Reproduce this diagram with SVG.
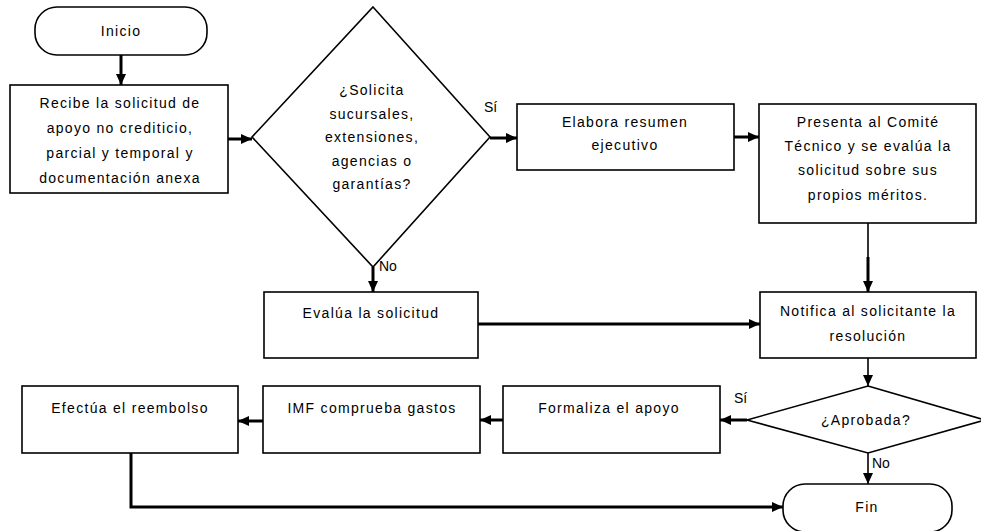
<svg xmlns="http://www.w3.org/2000/svg" width="981" height="531" viewBox="0 0 981 531">
<style>
.box{fill:#fff;stroke:#000;stroke-width:1.6}
.t{font-family:"Liberation Sans",Arial,sans-serif;font-size:14px;fill:#000;text-anchor:middle;letter-spacing:1.3px}
.lbl{font-family:"Liberation Sans",Arial,sans-serif;font-size:14px;fill:#000}
.c{fill:none;stroke:#000;stroke-width:3}
.cthin{fill:none;stroke:#000;stroke-width:1.6}
</style>
<defs>
<marker id="ah" markerUnits="userSpaceOnUse" markerWidth="12" markerHeight="12" viewBox="0 0 12 12" refX="11" refY="6" orient="auto">
<path d="M0,1 L11,6 L0,11 Z" fill="#000"/>
</marker>
</defs>
<rect width="981" height="531" fill="#fff"/>
<g id="connectors">
<path class="c" d="M121,55 V85" marker-end="url(#ah)"/>
<path class="c" d="M228,139 H252" marker-end="url(#ah)"/>
<path class="c" d="M490,138 H517" marker-end="url(#ah)"/>
<path class="c" d="M734,137 H759" marker-end="url(#ah)"/>
<path class="cthin" d="M868,223 V258"/>
<path class="c" d="M868,257 V292" marker-end="url(#ah)"/>
<path class="c" d="M373,267 V292" marker-end="url(#ah)"/>
<path class="c" d="M478,324 H760" marker-end="url(#ah)"/>
<path class="cthin" d="M868,358 V386" marker-end="url(#ah)"/>
<path class="c" d="M747,420 H720" marker-end="url(#ah)"/>
<path class="c" d="M503,420 H480" marker-end="url(#ah)"/>
<path class="c" d="M263,421 H238" marker-end="url(#ah)"/>
<path class="c" d="M131,453 V507 H783" marker-end="url(#ah)"/>
<path class="cthin" d="M868,453 V484" marker-end="url(#ah)"/>
<text class="lbl" x="484" y="112">Sí</text>
<text class="lbl" x="379" y="271">No</text>
<text class="lbl" x="734" y="403">Sí</text>
<text class="lbl" x="872" y="468">No</text>
</g>
<g id="inicio">
<rect class="box" x="35" y="7" width="172" height="48" rx="22" ry="22"/>
<text class="t" x="121" y="36">Inicio</text>
</g>
<g id="recibe">
<rect class="box" x="10" y="85" width="218" height="108"/>
<text class="t" x="120" y="108">Recibe la solicitud de</text>
<text class="t" x="120" y="133">apoyo no crediticio,</text>
<text class="t" x="120" y="158">parcial y temporal y</text>
<text class="t" x="120" y="183">documentación anexa</text>
</g>
<g id="solicita">
<polygon class="box" points="373,7 490,137 373,267 252,137"/>
<text class="t" x="372" y="95">¿Solicita</text>
<text class="t" x="372" y="119">sucursales,</text>
<text class="t" x="372" y="142">extensiones,</text>
<text class="t" x="372" y="166">agencias o</text>
<text class="t" x="372" y="189">garantías?</text>
</g>
<g id="elabora">
<rect class="box" x="517" y="104" width="217" height="66"/>
<text class="t" x="625" y="127">Elabora resumen</text>
<text class="t" x="625" y="150">ejecutivo</text>
</g>
<g id="presenta">
<rect class="box" x="759" y="104" width="217" height="119"/>
<text class="t" x="868" y="127">Presenta al Comité</text>
<text class="t" x="868" y="151">Técnico y se evalúa la</text>
<text class="t" x="868" y="175">solicitud sobre sus</text>
<text class="t" x="868" y="200">propios méritos.</text>
</g>
<g id="evalua">
<rect class="box" x="264" y="292" width="214" height="66"/>
<text class="t" x="371" y="318">Evalúa la solicitud</text>
</g>
<g id="notifica">
<rect class="box" x="760" y="292" width="216" height="66"/>
<text class="t" x="868" y="316">Notifica al solicitante la</text>
<text class="t" x="868" y="341">resolución</text>
</g>
<g id="aprobada">
<polygon class="box" points="868,386 985,420 868,453 747,420"/>
<text class="t" x="866" y="425">¿Aprobada?</text>
</g>
<g id="formaliza">
<rect class="box" x="503" y="386" width="217" height="67"/>
<text class="t" x="609" y="413">Formaliza el apoyo</text>
</g>
<g id="imf">
<rect class="box" x="263" y="386" width="217" height="67"/>
<text class="t" x="372" y="413">IMF comprueba gastos</text>
</g>
<g id="efectua">
<rect class="box" x="22" y="386" width="216" height="67"/>
<text class="t" x="130" y="413">Efectúa el reembolso</text>
</g>
<g id="fin">
<rect class="box" x="783" y="484" width="169" height="48" rx="22" ry="22"/>
<text class="t" x="867" y="512">Fin</text>
</g>
</svg>
